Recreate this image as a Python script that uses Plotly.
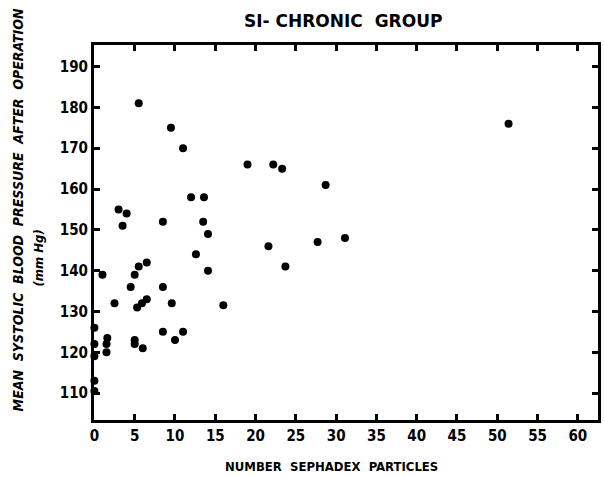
import plotly.graph_objects as go

particles = [0, 0, 0, 0, 0, 1, 1.6, 1.5, 1.5, 2.5, 3, 4, 3.5, 4.5, 5, 5.5, 6.5,
             5.3, 5.9, 6.5, 5, 5, 6, 5.5, 8.5, 8.5, 8.5, 9.5, 9.6, 10, 11, 11,
             12, 13.6, 13.5, 14.1, 12.6, 14.1, 16, 19, 21.6, 22.2, 23.3, 23.7,
             27.7, 28.7, 31.1, 51.4]
pressure = [126, 122, 119, 113, 110.5, 139, 123.5, 122, 120, 132, 155, 154, 151,
            136, 139, 141, 142, 131, 132, 133, 123, 122, 121, 181, 152, 136, 125,
            175, 132, 123, 125, 170, 158, 158, 152, 149, 144, 140, 131.5, 166,
            146, 166, 165, 141, 147, 161, 148, 176]

x_ticks = list(range(0, 61, 5))
y_ticks = list(range(110, 191, 10))

FONT = "DejaVu Sans Condensed"

fig = go.Figure(go.Scatter(
    x=particles, y=pressure, mode="markers",
    marker=dict(size=8, color="black"),
    cliponaxis=False, showlegend=False))

axis_common = dict(showline=True, linecolor="black", linewidth=3, mirror="ticks",
                   ticks="inside", ticklen=6, tickwidth=3, tickcolor="black",
                   showgrid=False, zeroline=False,
                   tickfont=dict(family=FONT, size=15, color="black", weight="bold"))

fig.update_xaxes(range=[-0.05, 62.5], tickvals=x_ticks, ticktext=[str(v) for v in x_ticks],
                 **axis_common)
fig.update_yaxes(range=[103.4, 195.3], tickvals=y_ticks, ticktext=[str(v) for v in y_ticks],
                 **axis_common)

fig.update_layout(
    width=604, height=477,
    margin=dict(l=94, r=3, t=45, b=57),
    plot_bgcolor="white", paper_bgcolor="white",
    annotations=[
        dict(text="SI- CHRONIC  GROUP", x=0.495, y=1.0, yanchor="bottom", yshift=12,
             xref="paper", yref="paper", showarrow=False,
             font=dict(family="DejaVu Sans", size=17, color="black", weight="bold")),
        dict(text="NUMBER  SEPHADEX  PARTICLES", x=0.471, y=-0.123, xref="paper",
             yref="paper", showarrow=False, yanchor="middle",
             font=dict(family=FONT, size=13, color="black", weight="bold")),
        dict(text="<i>MEAN  SYSTOLIC  BLOOD  PRESSURE  AFTER  OPERATION</i>",
             x=-0.15, y=0.56, xref="paper", yref="paper", showarrow=False, textangle=-90,
             xanchor="center", yanchor="middle",
             font=dict(family=FONT, size=14, color="black", weight="bold")),
        dict(text="<i>(mm Hg)</i>", x=-0.112, y=0.432, xref="paper", yref="paper",
             showarrow=False, textangle=-90, xanchor="center", yanchor="middle",
             font=dict(family=FONT, size=13, color="black", weight="bold")),
    ],
)

fig.write_html("out.html")
